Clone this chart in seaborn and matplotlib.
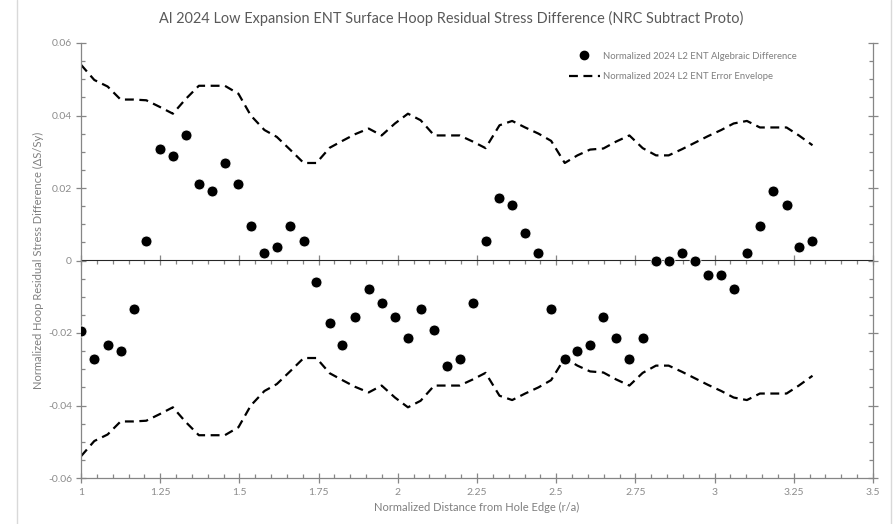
import numpy as np
import pandas as pd
import seaborn as sns
import matplotlib.pyplot as plt
from matplotlib.ticker import MultipleLocator, FuncFormatter, NullFormatter
from matplotlib.lines import Line2D

# positions along the hole edge (r/a)
r_over_a = [1.000, 1.042, 1.084, 1.125, 1.166, 1.206, 1.248, 1.290, 1.330, 1.372,
            1.412, 1.454, 1.497, 1.536, 1.579, 1.618, 1.661, 1.703, 1.743, 1.785,
            1.825, 1.864, 1.908, 1.949, 1.991, 2.032, 2.072, 2.115, 2.155, 2.195,
            2.237, 2.277, 2.321, 2.361, 2.402, 2.444, 2.484, 2.527, 2.567, 2.607,
            2.649, 2.689, 2.731, 2.773, 2.815, 2.855, 2.897, 2.938, 2.979, 3.021,
            3.060, 3.102, 3.143, 3.184, 3.227, 3.266, 3.309]

# algebraic difference (dS/Sy)
alg_diff = [-0.0194, -0.0272, -0.0233, -0.0251, -0.0135, 0.0055, 0.0307, 0.0287, 0.0345, 0.0210,
            0.0191, 0.0269, 0.0210, 0.0095, 0.0020, 0.0037, 0.0095, 0.0055, -0.0058, -0.0173,
            -0.0233, -0.0155, -0.0078, -0.0117, -0.0155, -0.0213, -0.0135, -0.0193, -0.0290, -0.0271,
            -0.0117, 0.0055, 0.0172, 0.0154, 0.0075, 0.0020, -0.0135, -0.0271, -0.0251, -0.0233,
            -0.0155, -0.0213, -0.0272, -0.0213, 0.0000, 0.0000, 0.0020, 0.0000, -0.0040, -0.0040,
            -0.0078, 0.0020, 0.0095, 0.0191, 0.0154, 0.0037, 0.0055]

# error envelope, upper and lower
env_upper = [0.0540, 0.0498, 0.0480, 0.0444, 0.0444, 0.0442, 0.0424, 0.0405, 0.0445, 0.0482,
             0.0482, 0.0482, 0.0460, 0.0400, 0.0360, 0.0341, 0.0305, 0.0269, 0.0269, 0.0311,
             0.0330, 0.0348, 0.0364, 0.0345, 0.0378, 0.0405, 0.0387, 0.0345, 0.0345, 0.0345,
             0.0328, 0.0310, 0.0373, 0.0385, 0.0367, 0.0350, 0.0330, 0.0269, 0.0290, 0.0306,
             0.0309, 0.0328, 0.0345, 0.0310, 0.0290, 0.0290, 0.0307, 0.0325, 0.0343, 0.0360,
             0.0378, 0.0385, 0.0367, 0.0367, 0.0367, 0.0345, 0.0318]
env_lower = [-0.0540, -0.0498, -0.0480, -0.0444, -0.0444, -0.0442, -0.0424, -0.0405, -0.0445, -0.0482,
             -0.0482, -0.0482, -0.0460, -0.0400, -0.0360, -0.0341, -0.0305, -0.0269, -0.0269, -0.0311,
             -0.0330, -0.0348, -0.0364, -0.0345, -0.0378, -0.0405, -0.0387, -0.0345, -0.0345, -0.0345,
             -0.0328, -0.0310, -0.0373, -0.0385, -0.0367, -0.0350, -0.0330, -0.0269, -0.0290, -0.0306,
             -0.0309, -0.0328, -0.0345, -0.0310, -0.0290, -0.0290, -0.0307, -0.0325, -0.0343, -0.0360,
             -0.0378, -0.0385, -0.0367, -0.0367, -0.0367, -0.0345, -0.0318]

df = pd.DataFrame({'r': r_over_a, 'diff': alg_diff, 'up': env_upper, 'low': env_lower})

sns.set_style('white')
plt.rcParams['font.family'] = ['Lato', 'DejaVu Sans']

axis_col = '#868686'
text_col = '#595959'

fig = plt.figure(figsize=(8.94, 5.24), dpi=100)
ax = fig.add_axes([81 / 894, 46 / 524, 792 / 894, 435 / 524])

dash = (4, 2.5)
sns.lineplot(data=df, x='r', y='up', ax=ax, color='black', lw=1.6, sort=False,
             estimator=None, dashes=False, linestyle=(0, dash))
sns.lineplot(data=df, x='r', y='low', ax=ax, color='black', lw=1.6, sort=False,
             estimator=None, dashes=False, linestyle=(0, dash))
sns.scatterplot(data=df, x='r', y='diff', ax=ax, color='black', s=62,
                edgecolor='white', linewidth=0.6, zorder=5)

ax.set_xlim(1, 3.5)
ax.set_ylim(-0.06, 0.06)
ax.xaxis.set_major_locator(MultipleLocator(0.25))
ax.xaxis.set_minor_locator(MultipleLocator(0.05))
ax.yaxis.set_major_locator(MultipleLocator(0.02))
ax.yaxis.set_minor_locator(MultipleLocator(0.005))
fmt = FuncFormatter(lambda v, p: '{:g}'.format(round(v, 4)))
ax.xaxis.set_major_formatter(fmt)
ax.yaxis.set_major_formatter(fmt)

for side in ['left', 'bottom', 'right']:
    ax.spines[side].set_color(axis_col)
    ax.spines[side].set_linewidth(0.9)
ax.spines['top'].set_visible(False)

ax.tick_params(which='major', direction='inout', length=7, width=0.9, color=axis_col,
               labelsize=7.5, labelcolor='#8c8c8c', right=True, bottom=True, left=True)
ax.tick_params(which='minor', direction='in', length=3, width=0.9, color=axis_col,
               right=True, bottom=True, left=True)
ax.tick_params(axis='y', which='major', pad=3)

# axis line through zero
zero_ax = ax.secondary_xaxis(0.5)
zero_ax.xaxis.set_major_locator(MultipleLocator(0.25))
zero_ax.xaxis.set_minor_locator(MultipleLocator(0.05))
zero_ax.xaxis.set_major_formatter(NullFormatter())
zero_ax.spines['bottom'].set_color(axis_col)
zero_ax.spines['bottom'].set_linewidth(0.9)
zero_ax.tick_params(which='major', direction='inout', length=7, width=0.9, color=axis_col)
zero_ax.tick_params(which='minor', direction='in', length=3, width=0.9, color=axis_col)

ax.set_xlabel('Normalized Distance from Hole Edge (r/a)', fontsize=8, color='#7f7f7f', labelpad=4)
ax.set_ylabel('Normalized Hoop Residual Stress Difference (\u0394S/Sy)', fontsize=8,
              color='#7f7f7f', labelpad=3)
fig.text(451 / 894, 1 - 18 / 524, 'Al 2024 Low Expansion ENT Surface Hoop Residual Stress Difference (NRC Subtract Proto)',
         ha='center', va='center', fontsize=10.45, color=text_col)

handles = [Line2D([], [], marker='o', color='black', ls='none', markersize=6),
           Line2D([], [], color='black', lw=1.6, linestyle=(0, dash))]
ax.legend(handles, ['Normalized 2024 L2 ENT Algebraic Difference',
                    'Normalized 2024 L2 ENT Error Envelope'],
          loc='upper left', bbox_to_anchor=(0.605, 1.0), frameon=False, fontsize=6.8,
          labelcolor='#7f7f7f', handlelength=3.3, handletextpad=0.35, labelspacing=1.25)

# chart area border edges
fig.add_artist(Line2D([17 / 894, 17 / 894], [0, 1], color='#d9d9d9', lw=1))
fig.add_artist(Line2D([891 / 894, 891 / 894], [0, 1], color='#d9d9d9', lw=1))

plt.savefig('out.png', dpi=100)
